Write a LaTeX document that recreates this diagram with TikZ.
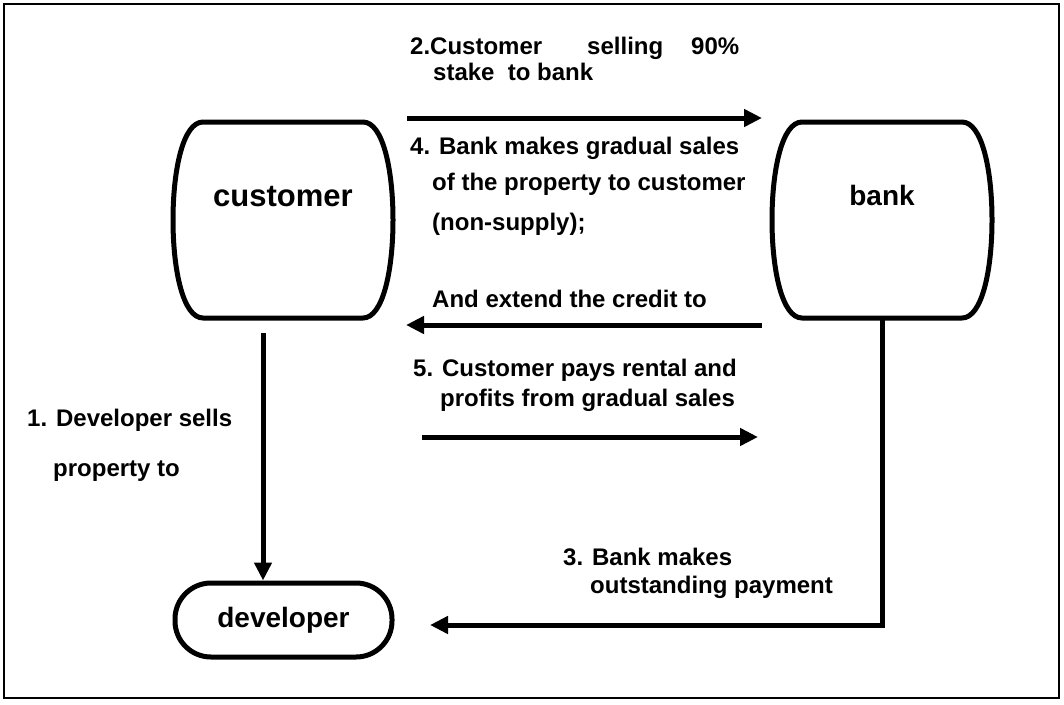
\documentclass[tikz,border=0pt]{standalone}
\usepackage{fontspec}
\setmainfont{Liberation Sans}
\usetikzlibrary{arrows.meta,calc}
\begin{document}
\begin{tikzpicture}[x=1pt,y=-1pt,
  lbl/.style={anchor=base west,inner sep=0pt,font=\fontsize{24}{28}\selectfont\bfseries},
  arr/.style={line width=5pt,-{Triangle[length=18pt,width=17pt]}},
  shp/.style={line width=5pt},
  frame/.style={line width=2pt},
  barrelbox/.style={inner sep=0pt,minimum width=220pt,minimum height=196pt,text depth=50pt},
  barrel/.pic={\draw[shp] (-80,-98) -- (80,-98) .. controls (100,-98) and (110,-50) .. (110,0) .. controls (110,50) and (100,98) .. (80,98) -- (-80,98) .. controls (-100,98) and (-110,50) .. (-110,0) .. controls (-110,-50) and (-100,-98) .. (-80,-98) -- cycle;}]
\useasboundingbox (0,0) rectangle (1064,704);
\draw[frame] (4,4) rectangle (1059,698);

% shapes
\pic at (283,220) {barrel};
\node[barrelbox,text height=22pt,font=\fontsize{31}{36}\selectfont\bfseries] (customer) at (283,220) {customer};
\pic at (882,220) {barrel};
\node[barrelbox,text height=20pt,font=\fontsize{28}{32}\selectfont\bfseries] (bank) at (882,220) {bank};
\node[shp,draw,rounded corners=36pt,minimum width=217pt,minimum height=74pt,inner sep=0pt,
  font=\fontsize{28}{32}\selectfont\bfseries] (developer) at (283.5,620) {developer};

% connector end points
\coordinate (a2s) at (407,118);
\coordinate (a2e) at (762,118);
\coordinate (a4s) at (762,325);
\coordinate (a4e) at (406,325);
\coordinate (a5s) at (422,437);
\coordinate (a5e) at (758,437);
\coordinate (a1s) at (263,333);
\coordinate (a3e) at (430,625);

\draw[arr] (a2s) -- (a2e);
\draw[arr] (a4s) -- (a4e);
\draw[arr] (a5s) -- (a5e);
\draw[arr] (a1s) -- (a1s |- developer.north);
\draw[arr] (bank.south) -- (bank.south |- a3e) -- (a3e);

% labels
\node[lbl] (t2a) at (410,54) {2.Customer\hspace{45pt}selling\hspace{28pt}90\%};
\node[lbl] (t2b) at (433,80) {stake\ \ to bank};
\node[lbl] (t4a) at (410,154) {4. Bank makes gradual sales};
\node[lbl] (t4b) at (432,190) {of the property to customer};
\node[lbl] (t4c) at (432,230) {(non-supply);};
\node[lbl] (t4d) at (432,307) {And extend the credit to};
\node[lbl] (t5a) at (413,376) {5. Customer pays rental and};
\node[lbl] (t5b) at (440,406) {profits from gradual sales};
\node[lbl] (t1a) at (27,426) {1. Developer sells};
\node[lbl] (t1b) at (53,476) {property to};
\node[lbl] (t3a) at (563,565) {3. Bank makes};
\node[lbl] (t3b) at (590,593) {outstanding payment};
\end{tikzpicture}
\end{document}
